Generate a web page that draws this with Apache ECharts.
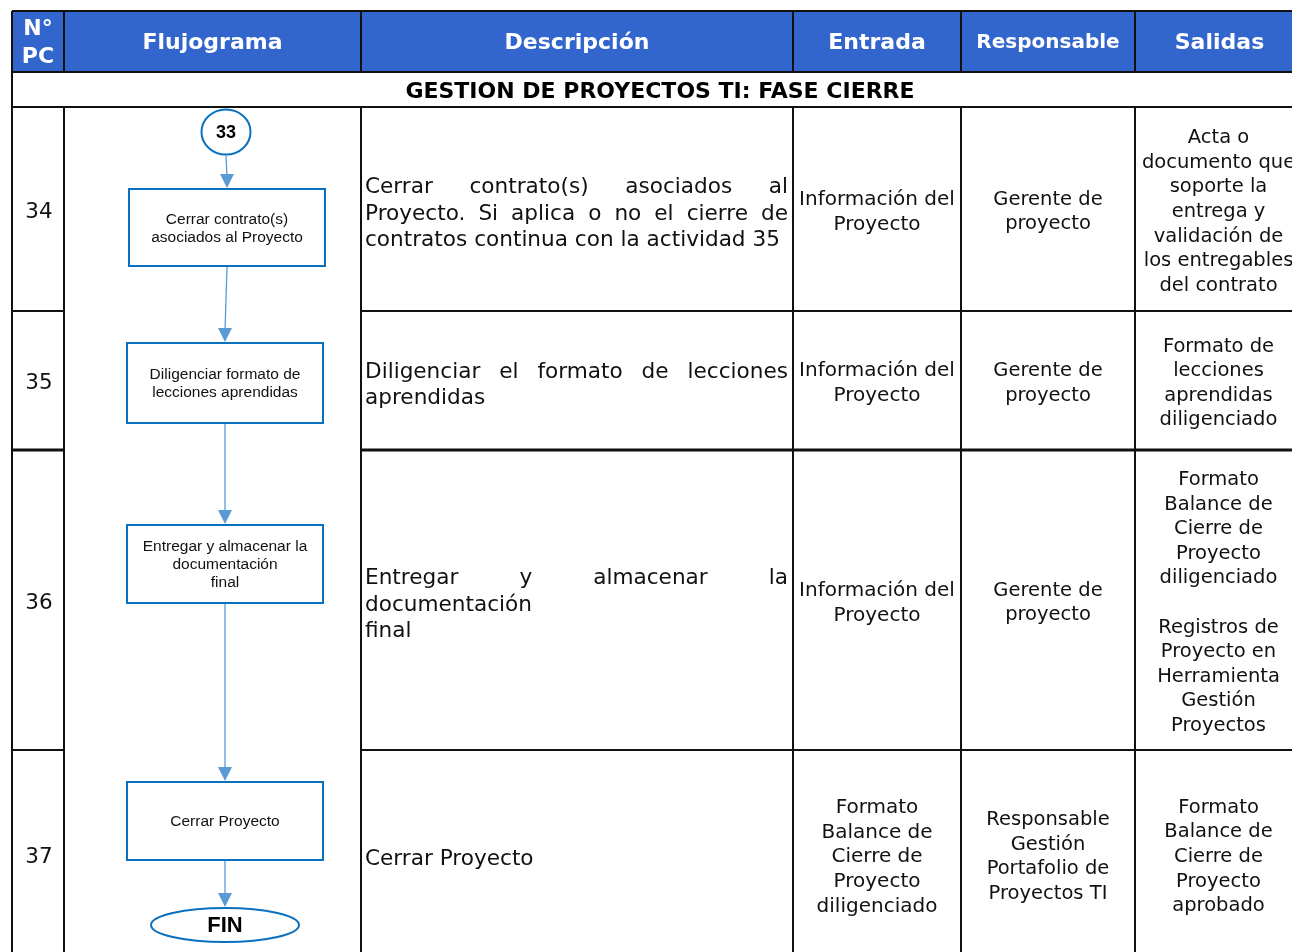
<!DOCTYPE html>
<html><head><meta charset="utf-8">
<script src="https://cdn.jsdelivr.net/npm/echarts@6/dist/echarts.min.js"></script>
<style>html,body{margin:0;padding:0;background:#fff}#c{width:1292px;height:952px}</style>
</head><body><div id="c"></div>
<script>
// ---------------- data ----------------
const headers = ['N°\nPC', 'Flujograma', 'Descripción', 'Entrada', 'Responsable', 'Salidas'];
const sectionTitle = 'GESTION DE PROYECTOS TI: FASE CIERRE';
const activityNumbers = ['34', '35', '36', '37'];
const descriptions = [
  ['Cerrar contrato(s) asociados al', 'Proyecto. Si aplica o no el cierre de', 'contratos continua con la actividad 35'],
  ['Diligenciar el formato de lecciones', 'aprendidas'],
  ['Entregar y almacenar la', 'documentación', 'final'],
  ['Cerrar Proyecto']
];
const entradas = [
  'Información del\nProyecto',
  'Información del\nProyecto',
  'Información del\nProyecto',
  'Formato\nBalance de\nCierre de\nProyecto\ndiligenciado'
];
const responsables = [
  'Gerente de\nproyecto',
  'Gerente de\nproyecto',
  'Gerente de\nproyecto',
  'Responsable\nGestión\nPortafolio de\nProyectos TI'
];
const salidas = [
  'Acta o\ndocumento que\nsoporte la\nentrega y\nvalidación de\nlos entregables\ndel contrato',
  'Formato de\nlecciones\naprendidas\ndiligenciado',
  'Formato\nBalance de\nCierre de\nProyecto\ndiligenciado\n\nRegistros de\nProyecto en\nHerramienta\nGestión\nProyectos',
  'Formato\nBalance de\nCierre de\nProyecto\naprobado'
];
const flowStart = '33';
const flowSteps = [
  'Cerrar contrato(s)\nasociados al Proyecto',
  'Diligenciar formato de\nlecciones aprendidas',
  'Entregar y almacenar la\ndocumentación\nfinal',
  'Cerrar Proyecto'
];
const flowEnd = 'FIN';

// ---------------- layout & styles ----------------
const COLS = [12, 64, 361, 793, 961, 1135, 1304];
const Y_TOP = 11, Y_HEAD = 72, Y_TITLE = 107;
const ROW_EDGES = [107, 311, 450, 750, 958];
const ROW_LINE_W = [2, 3, 2, 3.5];
const TEXT_DY = 3;
const START_NODE = { cx: 226, cy: 132, rx: 24.5, ry: 22.5 };
const BOXES = [[129, 189, 325, 266], [127, 343, 323, 423], [127, 525, 323, 603], [127, 782, 323, 860]];
const END_NODE = { cx: 225, cy: 925, rx: 74, ry: 17 };
const BLUE_HEAD = '#3366CC';
const FLOW_STROKE = '#0A70C0';
const ARROW = '#5B9BD5';
const LINE = '#111';
const VERD = '"DejaVu Sans", Verdana, sans-serif';
const ARIAL = '"Liberation Sans", Arial, sans-serif';
const F_HEAD = 'bold 22px ' + VERD;
const F_HEAD_S = 'bold 20px ' + VERD;
const F_DESC = '21.6px ' + VERD;
const F_CELL = '19.5px ' + VERD;
const F_ENTR = '20px ' + VERD;
const F_NUM = '21.5px ' + VERD;
const F_FLOW = '15.5px ' + ARIAL;

const mctx = document.createElement('canvas').getContext('2d');
function measure(t, font) { mctx.font = font; return mctx.measureText(t).width; }

const chart = echarts.init(document.getElementById('c'), null, { renderer: 'canvas' });

function mk(api) {
  return function (x, y) { return api.coord([x, y]); };
}
function line(P, x1, y1, x2, y2, w, color) {
  const a = P(x1, y1), b = P(x2, y2);
  return { type: 'line', shape: { x1: a[0], y1: a[1], x2: b[0], y2: b[1] }, style: { stroke: color || LINE, lineWidth: w } };
}
function text(P, x, y, t, font, align, fill, lh) {
  const p = P(x, y);
  return { type: 'text', style: { text: t, x: p[0], y: p[1], font: font, fill: fill || '#111', align: align || 'center', verticalAlign: 'middle', lineHeight: lh || 0 } };
}

// frame: header, title, grid lines
function renderFrame(params, api) {
  const P = mk(api);
  const ch = [];
  const a = P(COLS[0], Y_TOP), b = P(COLS[6], Y_HEAD);
  ch.push({ type: 'rect', shape: { x: a[0], y: a[1], width: b[0] - a[0], height: b[1] - a[1] }, style: { fill: BLUE_HEAD } });
  ch.push(line(P, COLS[0], Y_TOP, COLS[6], Y_TOP, 2));
  ch.push(line(P, COLS[0], Y_HEAD, COLS[6], Y_HEAD, 2));
  ch.push(line(P, COLS[0], Y_TITLE, COLS[6], Y_TITLE, 2));
  for (let r = 1; r < ROW_EDGES.length; r++) {
    const y = ROW_EDGES[r];
    ch.push(line(P, COLS[0], y, COLS[1], y, ROW_LINE_W[r - 1]));
    ch.push(line(P, COLS[2], y, COLS[6], y, ROW_LINE_W[r - 1]));
  }
  ch.push(line(P, COLS[0], Y_TOP, COLS[0], ROW_EDGES[ROW_EDGES.length - 1], 2));
  for (let c = 1; c < COLS.length; c++) {
    ch.push(line(P, COLS[c], Y_TOP, COLS[c], Y_HEAD, 2));
    ch.push(line(P, COLS[c], Y_TITLE, COLS[c], ROW_EDGES[ROW_EDGES.length - 1], 2));
  }
  headers.forEach(function (h, i) {
    const cx = (COLS[i] + COLS[i + 1]) / 2;
    const f = h === 'Responsable' ? F_HEAD_S : F_HEAD;
    ch.push(text(P, cx, (Y_TOP + Y_HEAD) / 2 + 1.5, h, f, 'center', '#fff', 28));
  });
  ch.push(text(P, (COLS[0] + COLS[6]) / 2 + 2, (Y_HEAD + Y_TITLE) / 2 + 2.5, sectionTitle, F_HEAD, 'center', '#000'));
  return { type: 'group', children: ch };
}

// table rows
function renderRow(params, api) {
  const P = mk(api);
  const i = params.dataIndex;
  const top = ROW_EDGES[i], bot = ROW_EDGES[i + 1];
  const mid = (top + bot) / 2 + TEXT_DY;
  const ch = [];
  ch.push(text(P, (COLS[0] + COLS[1]) / 2 + 1, mid, activityNumbers[i], F_NUM, 'center', '#111'));
  const lines = descriptions[i];
  const lh = 26.5;
  const x0 = COLS[2] + 4, x1 = COLS[3] - 5;
  const y0 = mid + 2 - (lines.length - 1) * lh / 2;
  lines.forEach(function (ln, j) {
    const y = y0 + j * lh;
    const words = ln.split(' ');
    if (j < lines.length - 1 && words.length > 1) {
      const widths = words.map(function (w) { return measure(w, F_DESC); });
      const total = widths.reduce(function (s, w) { return s + w; }, 0);
      const gap = (x1 - x0 - total) / (words.length - 1);
      let x = x0;
      words.forEach(function (w, k) {
        ch.push(text(P, x, y, w, F_DESC, 'left', '#111'));
        x += widths[k] + gap;
      });
    } else {
      ch.push(text(P, x0, y, ln, F_DESC, 'left', '#111'));
    }
  });
  ch.push(text(P, (COLS[3] + COLS[4]) / 2, mid, entradas[i], F_ENTR, 'center', '#111', 24.7));
  ch.push(text(P, (COLS[4] + COLS[5]) / 2, mid, responsables[i], F_CELL, 'center', '#111', 24.7));
  ch.push(text(P, (COLS[5] + COLS[6]) / 2 - 1, mid, salidas[i], F_CELL, 'center', '#111', 24.6));
  return { type: 'group', children: ch };
}

// flowchart nodes (0 = start, 1..n = steps, n+1 = end)
const flowNodes = [flowStart].concat(flowSteps).concat([flowEnd]);
function nodeGeom(k) {
  if (k === 0) return { cx: START_NODE.cx, top: START_NODE.cy - START_NODE.ry, bot: START_NODE.cy + START_NODE.ry };
  if (k === flowNodes.length - 1) return { cx: END_NODE.cx, top: END_NODE.cy - END_NODE.ry, bot: END_NODE.cy + END_NODE.ry };
  const b = BOXES[k - 1];
  return { cx: (b[0] + b[2]) / 2, top: b[1], bot: b[3] };
}
function renderFlow(params, api) {
  const P = mk(api);
  const k = params.dataIndex;
  const ch = [];
  if (k === 0 || k === flowNodes.length - 1) {
    const n = k === 0 ? START_NODE : END_NODE;
    const c = P(n.cx, n.cy), e = P(n.cx + n.rx, n.cy + n.ry);
    ch.push({ type: 'ellipse', shape: { cx: c[0], cy: c[1], rx: e[0] - c[0], ry: e[1] - c[1] }, style: { fill: '#fff', stroke: FLOW_STROKE, lineWidth: 2 } });
    const f = k === 0 ? 'bold 18px ' + ARIAL : 'bold 22px "Liberation Sans Narrow", ' + ARIAL;
    ch.push(text(P, n.cx, n.cy + 1, flowNodes[k], f, 'center', '#000'));
  } else {
    const b = BOXES[k - 1];
    const a = P(b[0], b[1]), z = P(b[2], b[3]);
    ch.push({ type: 'rect', shape: { x: a[0], y: a[1], width: z[0] - a[0], height: z[1] - a[1] }, style: { fill: '#fff', stroke: FLOW_STROKE, lineWidth: 2 } });
    ch.push(text(P, (b[0] + b[2]) / 2, (b[1] + b[3]) / 2 + 1, flowNodes[k], F_FLOW, 'center', '#111', 18));
  }
  if (k < flowNodes.length - 1) {
    const g1 = nodeGeom(k), g2 = nodeGeom(k + 1);
    ch.push(line(P, g1.cx, g1.bot + 1, g2.cx, g2.top - 12, 1.3, ARROW));
    const t1 = P(g2.cx - 7, g2.top - 15), t2 = P(g2.cx + 7, g2.top - 15), t3 = P(g2.cx, g2.top - 1);
    ch.push({ type: 'polygon', shape: { points: [t1, t2, t3] }, style: { fill: ARROW } });
  }
  return { type: 'group', children: ch };
}

chart.setOption({
  animation: false,
  grid: { left: 0, right: 0, top: 0, bottom: 0 },
  xAxis: { type: 'value', min: 0, max: 1292, show: false },
  yAxis: { type: 'value', min: 0, max: 952, inverse: true, show: false },
  series: [
    { type: 'custom', data: [[0, 0]], renderItem: renderFrame, clip: false, silent: true, z: 1 },
    { type: 'custom', data: activityNumbers.map(function (_, i) { return [i, i]; }), renderItem: renderRow, clip: false, silent: true, z: 2 },
    { type: 'custom', data: flowNodes.map(function (_, i) { return [i, i]; }), renderItem: renderFlow, clip: false, silent: true, z: 3 }
  ]
});
</script>
</body></html>
